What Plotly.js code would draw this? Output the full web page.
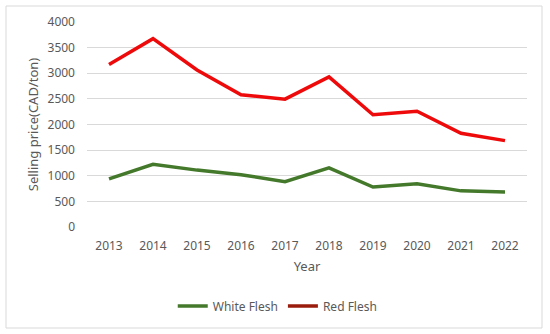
<!DOCTYPE html>
<html>
<head>
<meta charset="utf-8">
<script src="https://cdn.plot.ly/plotly-3.0.1.min.js"></script>
<style>html,body{margin:0;padding:0;background:#fff;}#chart{width:550px;height:334px;}</style>
</head>
<body>
<div id="chart"></div>
<script>
const years = ['2013','2014','2015','2016','2017','2018','2019','2020','2021','2022'];
const whiteFlesh = [940, 1225, 1110, 1020, 885, 1155, 780, 845, 705, 685];
const redFlesh = [3170, 3675, 3065, 2580, 2495, 2930, 2190, 2260, 1830, 1685];
const yTicks = [0, 500, 1000, 1500, 2000, 2500, 3000, 3500, 4000];

const font = {family: 'Noto Sans, Open Sans, sans-serif', color: '#595959', size: 12};

const traces = [
  {x: years, y: whiteFlesh, type: 'scatter', mode: 'lines', name: 'White Flesh',
   line: {color: '#44792B', width: 3.5}, showlegend: false},
  {x: years, y: redFlesh, type: 'scatter', mode: 'lines', name: 'Red Flesh',
   line: {color: '#EE0A0A', width: 3.5}, showlegend: false},
  {x: [null], y: [null], type: 'scatter', mode: 'lines', name: 'White Flesh',
   line: {color: '#44792B', width: 3.5}},
  {x: [null], y: [null], type: 'scatter', mode: 'lines', name: 'Red Flesh',
   line: {color: '#9A1C0C', width: 3.5}}
];

const layout = {
  width: 550, height: 334,
  margin: {l: 87, r: 23, t: 22, b: 107, autoexpand: false},
  paper_bgcolor: '#fff', plot_bgcolor: '#fff',
  font: font,
  showlegend: true,
  legend: {orientation: 'h', x: 0.505, xref: 'container', xanchor: 'center',
    y: 1 - 306 / 334, yref: 'container', yanchor: 'middle',
    font: {family: font.family, color: '#595959', size: 12}, itemwidth: 30},
  xaxis: {type: 'category', categoryorder: 'array', categoryarray: years,
    range: [-0.5, 9.5], automargin: false,
    showgrid: false, zeroline: false, showline: false, ticks: '',
    ticklabelstandoff: 10,
    tickfont: {size: 12, color: '#595959'},
    title: {text: 'Year', font: {size: 13, color: '#595959'}, standoff: 8}},
  yaxis: {range: [0, 4000], tickvals: yTicks, showgrid: true, gridcolor: '#D9D9D9',
    gridwidth: 1, zeroline: false, showline: false, ticks: '', automargin: false,
    ticklabelstandoff: 11,
    tickfont: {size: 12, color: '#595959'},
    title: {text: 'Selling price(CAD/ton)', font: {size: 13, color: '#595959'}, standoff: 5}},
  shapes: [{type: 'rect', xref: 'paper', yref: 'paper',
    x0: (6 - 87) / 440, x1: (542 - 87) / 440,
    y0: -(328 - 227) / 205, y1: (227 - 6) / 205,
    line: {color: '#D9D9D9', width: 1}, fillcolor: 'rgba(0,0,0,0)'}]
};

Plotly.newPlot('chart', traces, layout, {displayModeBar: false, staticPlot: true});
</script>
</body>
</html>
